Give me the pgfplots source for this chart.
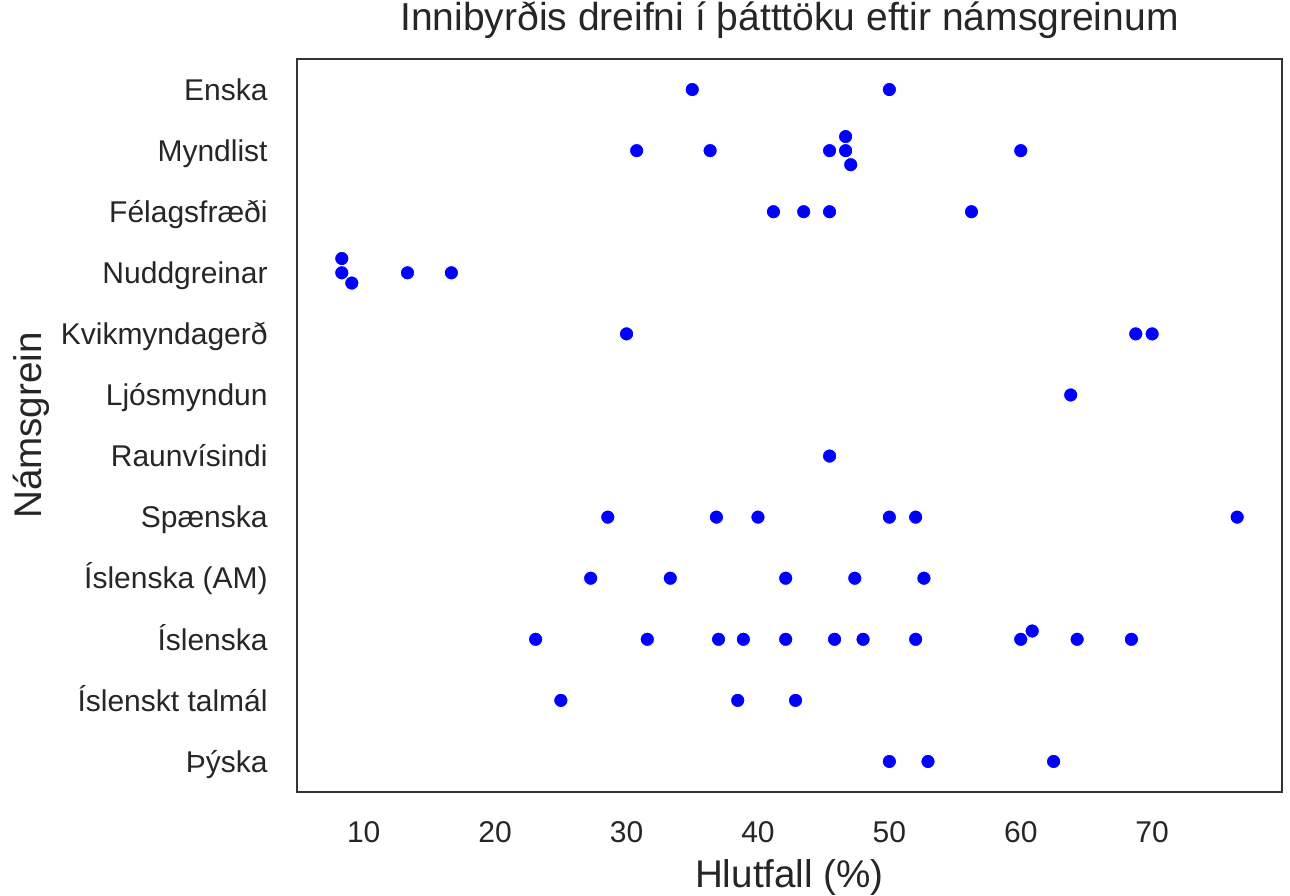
\documentclass[border=0pt]{standalone}
\usepackage{pgfplots}
\pgfplotsset{compat=1.18}
\usepackage{fontspec}
\setmainfont{Liberation Sans}
\definecolor{txt}{HTML}{262626}
\definecolor{spine}{HTML}{333333}
\definecolor{dotblue}{HTML}{0000FF}
\pgfplotstableread{
x y
35.00 0
50.00 0
30.77 1
36.36 1
45.45 1
46.67 0.770
46.67 1
47.06 1.230
60.00 1
41.18 2
43.48 2
45.45 2
56.25 2
8.33 2.766
8.33 3
9.09 3.168
13.33 3
16.67 3
30.00 4
68.75 4
70.00 4
63.80 5
45.45 6
28.57 7
36.84 7
40.00 7
50.00 7
52.00 7
76.47 7
27.27 8
33.33 8
42.11 8
47.37 8
52.63 8
23.08 9
31.58 9
37.00 9
38.89 9
42.11 9
45.83 9
48.00 9
52.00 9
60.00 9
60.87 8.864
64.29 9
68.42 9
25.00 10
38.46 10
42.86 10
50.00 11
52.94 11
62.50 11
}\datatable
\begin{document}
\begin{tikzpicture}
\useasboundingbox (-148.5pt,-51.75pt) rectangle (496.5pt,396pt);
\begin{axis}[
  at={(0pt,0pt)}, anchor=south west,
  scale only axis, width=492.5pt, height=366.5pt,
  xmin=4.92, xmax=79.88, ymin=-0.5, ymax=11.5, y dir=reverse,
  axis line style={draw=spine, line width=1.4pt},
  tick style={draw=none}, major tick length=0pt,
  xtick={10,20,30,40,50,60,70},
  xticklabels={10,20,30,40,50,60,70},
  ytick={0,1,2,3,4,5,6,7,8,9,10,11},
  yticklabels={Enska,Myndlist,Félagsfræði,Nuddgreinar,Kvikmyndagerð,Ljósmyndun,Raunvísindi,Spænska,Íslenska (AM),Íslenska,Íslenskt talmál,Þýska},
  xticklabel style={font=\fontsize{15}{18}\selectfont, text=txt, anchor=north, inner sep=0pt, yshift=-14.6pt},
  yticklabel style={font=\fontsize{15}{18}\selectfont, text=txt, anchor=base east, inner sep=0pt, xshift=-14.5pt, yshift=-5.37pt},
  xlabel={Hlutfall (\%)},
  ylabel={Námsgrein},
  title={Innibyrðis dreifni í þátttöku eftir námsgreinum},
  xlabel style={at={(axis description cs:0.5,-0.1303)}, anchor=base, inner sep=0pt, font=\fontsize{19.3}{23}\selectfont, text=txt},
  ylabel style={at={(axis description cs:-0.2591,0.5)}, anchor=base, inner sep=0pt, font=\fontsize{19.3}{23}\selectfont, text=txt},
  title style={at={(axis description cs:0.5,1.02265)}, anchor=base, inner sep=0pt, font=\fontsize{19.5}{23}\selectfont, text=txt},
]
\addplot[only marks, mark=*, mark size=3.6pt, mark options={fill=dotblue, draw=white, line width=0.5pt}] table[x=x, y=y] {\datatable};
\end{axis}
\end{tikzpicture}
\end{document}
